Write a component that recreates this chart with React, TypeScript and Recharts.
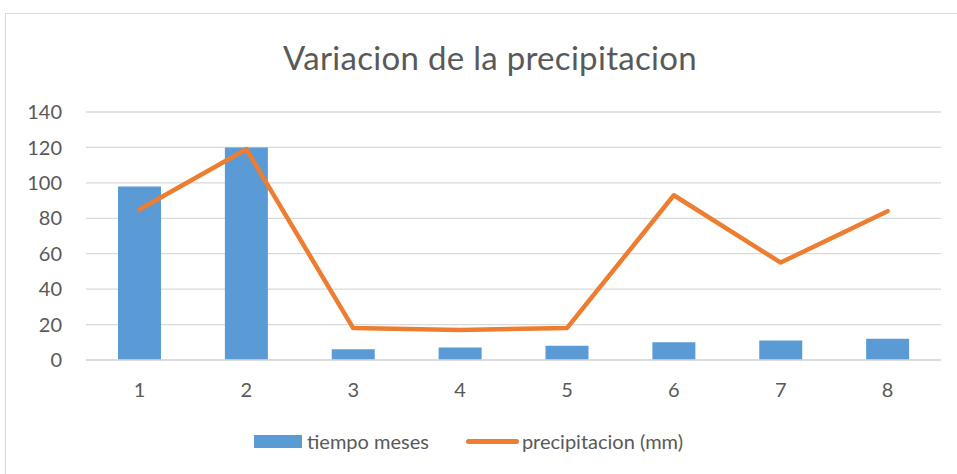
import React from 'react';
import { ComposedChart, Bar, Line, XAxis, YAxis, CartesianGrid } from 'recharts';

const months = ['1', '2', '3', '4', '5', '6', '7', '8'];
const tiempoMeses = [98, 120, 6, 7, 8, 10, 11, 12];
const precipitacion = [85, 119, 18, 17, 18, 93, 55, 84];
const yTicks = [0, 20, 40, 60, 80, 100, 120, 140];

const FONT = 'Lato, "Open Sans", sans-serif';
const TEXT = '#595959';

export default function App() {
  const data = months.map((m, i) => ({
    mes: m,
    tiempo: tiempoMeses[i],
    precip: precipitacion[i],
  }));

  return (
    <div style={{ position: 'absolute', left: 0, top: 0, width: 957, height: 474, overflow: 'hidden', background: '#fff', fontFamily: FONT }}>
      {/* chart frame */}
      <div style={{ position: 'absolute', left: 5, top: 13, width: 1000, height: 600, border: '1px solid #d9d9d9' }} />

      {/* title */}
      <div style={{ position: 'absolute', left: 0, top: 37, width: 980, textAlign: 'center', fontSize: 33, letterSpacing: 0.3, color: TEXT }}>
        Variacion de la precipitacion
      </div>

      <div style={{ position: 'absolute', left: 0, top: 0 }}>
        <ComposedChart width={957} height={474} data={data} margin={{ top: 112, right: 16, bottom: 84, left: 0 }}>
          <CartesianGrid vertical={false} stroke="#d9d9d9" strokeWidth={1.3} />
          <XAxis
            dataKey="mes"
            height={30}
            axisLine={{ stroke: '#d9d9d9', strokeWidth: 1.3 }}
            tickLine={false}
            tickMargin={17}
            tick={{ fill: TEXT, fontSize: 20, fontFamily: FONT }}
          />
          <YAxis
            width={86}
            domain={[0, 140]}
            ticks={yTicks}
            axisLine={false}
            tickLine={false}
            tickMargin={18}
            tick={{ fill: TEXT, fontSize: 20, fontFamily: FONT }}
          />
          <Bar dataKey="tiempo" fill="#5B9BD5" barSize={43} isAnimationActive={false} />
          <Line
            dataKey="precip"
            type="linear"
            stroke="#ED7D31"
            strokeWidth={4.5}
            strokeLinecap="round"
            strokeLinejoin="round"
            dot={false}
            activeDot={false}
            isAnimationActive={false}
          />
        </ComposedChart>
      </div>

      {/* legend */}
      <div style={{ position: 'absolute', left: 254, top: 429, display: 'flex', alignItems: 'center', fontSize: 20, color: TEXT }}>
        <span style={{ display: 'inline-block', width: 48, height: 13, background: '#5B9BD5', marginRight: 5 }} />
        <span>tiempo meses</span>
        <span style={{ display: 'inline-block', width: 53, height: 5, borderRadius: 3, background: '#ED7D31', marginLeft: 37, marginRight: 3 }} />
        <span>precipitacion (mm)</span>
      </div>
    </div>
  );
}
